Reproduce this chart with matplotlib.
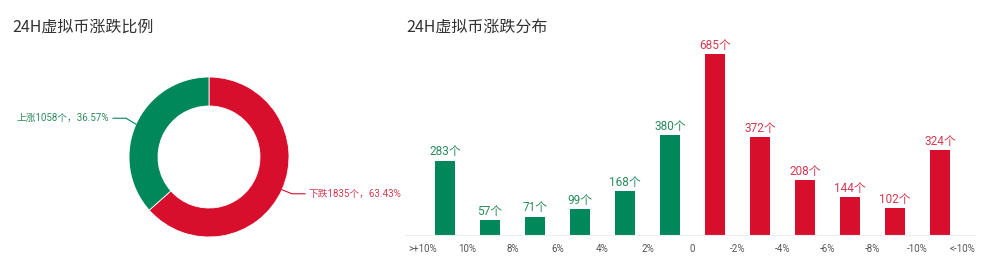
import matplotlib.pyplot as plt
import numpy as np

plt.rcParams['font.family'] = ['Roboto', 'Noto Sans CJK SC', 'DejaVu Sans']

# 涨跌比例
pie_names = ["下跌", "上涨"]
pie_counts = [1835, 1058]
pie_pcts = ["63.43%", "36.57%"]

# 涨跌分布
bar_values = [283, 57, 71, 99, 168, 380, 685, 372, 208, 144, 102, 324]
tick_labels = [">+10%", "10%", "8%", "6%", "4%", "2%", "0",
               "-2%", "-4%", "-6%", "-8%", "-10%", "<-10%"]

GREEN = "#00875a"
RED = "#d80f2c"
GREEN_TXT = "#2b8a5e"
RED_TXT = "#d23a52"

W, H = 1000, 270
fig = plt.figure(figsize=(W / 100, H / 100), dpi=100)
fig.patch.set_facecolor("white")

fig.text(12 / W, 1 - 27 / H, "24H虚拟币涨跌比例", fontsize=11.5, color="#333333",
         va="center", ha="left", family=['Noto Sans CJK SC', 'DejaVu Sans'])
fig.text(406 / W, 1 - 27 / H, "24H虚拟币涨跌分布", fontsize=11.5, color="#333333",
         va="center", ha="left", family=['Noto Sans CJK SC', 'DejaVu Sans'])

# ---- donut ----
ax1 = fig.add_axes([0, 0, 0.4, 1])
cx, cy, R = 209, H - 157, 80
wedges, _ = ax1.pie(pie_counts, colors=[RED, GREEN], startangle=90, counterclock=False,
                    radius=R, center=(cx, cy),
                    wedgeprops=dict(width=29, edgecolor="white", linewidth=0.6))
ax1.set_xlim(0, 400)
ax1.set_ylim(0, H)
ax1.set_aspect("auto")
ax1.axis("off")

txt_cols = [RED_TXT, GREEN_TXT]
line_cols = [RED, GREEN]
for w, name, n, p, tc, lc in zip(wedges, pie_names, pie_counts, pie_pcts, txt_cols, line_cols):
    ang = np.deg2rad((w.theta1 + w.theta2) / 2)
    x0 = cx + R * np.cos(ang)
    y0 = cy + R * np.sin(ang)
    side = 1 if np.cos(ang) > 0 else -1
    x1 = x0 + side * 10
    y1 = y0 + (-4 if np.sin(ang) < 0 else 6)
    x2 = x1 + side * 13
    ax1.plot([x0, x1, x2], [y0, y1, y1], color=lc, lw=0.8)
    ax1.text(x2 + side * 4, y1, f"{name}{n}个，{p}", color=tc, fontsize=7,
             ha="left" if side > 0 else "right", va="center")

# ---- bars ----
px = 45.0
x0_pix = 445.0
left_pix, right_pix = 405.0, 975.0
base_pix = H - 235.3
yscale = 181 / 685
ymax = 700
ax2 = fig.add_axes([left_pix / W, base_pix / H, (right_pix - left_pix) / W, ymax * yscale / H])
xs = np.arange(len(bar_values))
cols = [GREEN if i < 6 else RED for i in xs]
tcols = [GREEN_TXT if i < 6 else RED_TXT for i in xs]
ax2.bar(xs, bar_values, width=19.5 / px, color=cols)
for x, v, c in zip(xs, bar_values, tcols):
    ax2.annotate(f"{v}个", (x, v), xytext=(0, 1.5), textcoords="offset points",
                 ha="center", va="bottom", fontsize=8.5, color=c)
ax2.set_xlim((left_pix - x0_pix) / px, (right_pix - x0_pix) / px)
ax2.set_ylim(0, ymax)
ax2.set_xticks(np.arange(len(tick_labels)) - 0.5)
ax2.set_xticklabels(tick_labels, fontsize=7, color="#555555")
ax2.tick_params(axis="x", length=0, pad=6)
ax2.set_yticks([])
for s in ["top", "right", "left"]:
    ax2.spines[s].set_visible(False)
ax2.spines["bottom"].set_color("#eeeeee")
ax2.spines["bottom"].set_linewidth(0.8)
ax2.set_facecolor("none")

fig.savefig("out.png", dpi=100, facecolor="white")
